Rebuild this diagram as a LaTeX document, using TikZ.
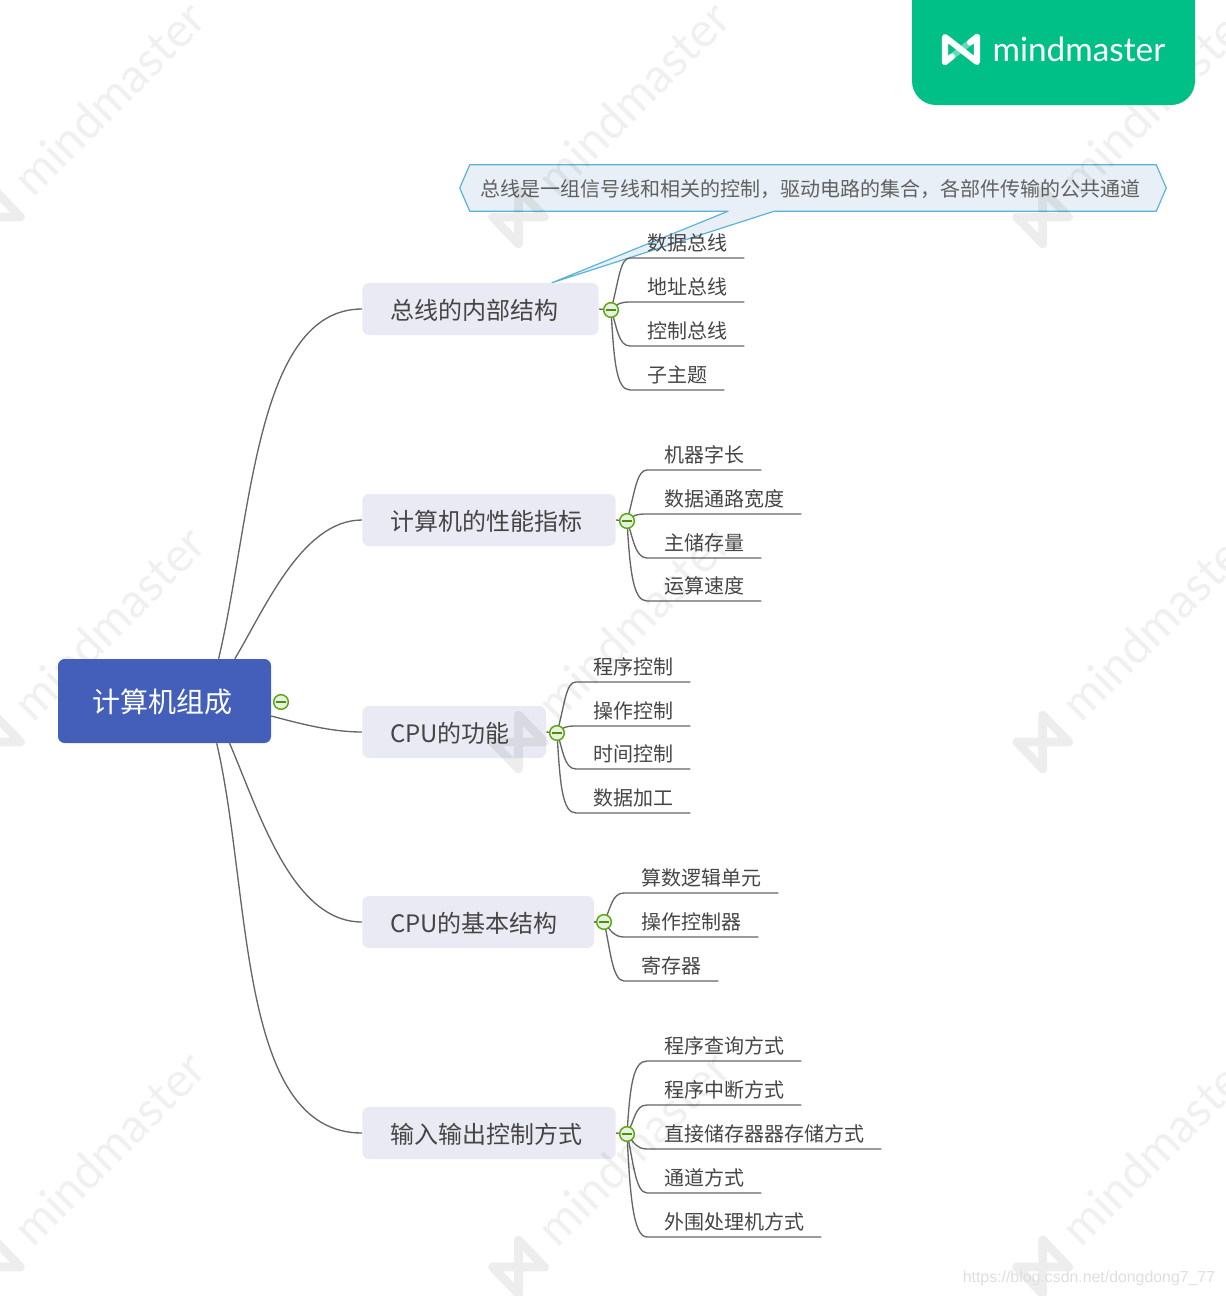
\documentclass[tikz,border=0pt]{standalone}
\usepackage{fontspec}
\usepackage{xcolor}
\setmainfont{Noto Sans CJK SC}
\newfontfamily\logofont{Lato}
\newfontfamily\urlfont{Liberation Sans}
\usetikzlibrary{calc,backgrounds}
\definecolor{rootblue}{HTML}{435FBA}
\definecolor{topicgray}{HTML}{E9EAF3}
\definecolor{linegray}{HTML}{666666}
\definecolor{textgray}{HTML}{454545}
\definecolor{notefill}{HTML}{E8EFF6}
\definecolor{noteblue}{HTML}{5BB4D6}
\definecolor{togglegreen}{HTML}{5AA80F}
\definecolor{togglefill}{HTML}{E8F1DF}
\definecolor{brandgreen}{HTML}{00C087}
\newcommand{\togglebar}{\rule{7pt}{1pt}}

\begin{document}
\begin{tikzpicture}[
  x=0.75pt, y=-0.75pt,
  rootnode/.style={rectangle, rounded corners=5pt, minimum width=159.75pt,
                   minimum height=63pt, align=center, fill=rootblue, text=white,
                   text height=20pt, text depth=2.5pt,
                   font=\fontsize{21pt}{25pt}\selectfont},
  topic/.style={rectangle, rounded corners=5pt, anchor=west, minimum height=39pt,
                inner xsep=20.9pt, align=left, fill=topicgray, text=textgray,
                text height=17.9pt, text depth=2pt,
                font=\fontsize{18pt}{22pt}\selectfont},
  leaf/.style={rectangle, anchor=south west, inner xsep=12.7pt, inner ysep=0pt,
               minimum height=22.5pt, text=textgray,
               font=\fontsize{15pt}{18pt}\selectfont},
  togglenode/.style={circle, minimum size=11pt, inner sep=0pt, draw=togglegreen,
                     line width=1.1pt, fill=togglefill, text=togglegreen!85!black,
                     font=\fontsize{5pt}{5pt}\selectfont},
  branch/.style={draw=linegray, line width=1pt},
  wmtext/.style={rotate=45, text=black, opacity=0.06,
                 font=\logofont\fontsize{36pt}{42pt}\selectfont},
  wmark/.pic={
    \draw[line width=6.5pt, line join=round, black, opacity=0.07]
      (-26,0) -- (0,27) -- (0,-27) -- (26,0) -- cycle;
    \node[wmtext] (-label) at (114.5,-119) {mindmaster};
  },
]
  \useasboundingbox (0,0) rectangle (1225,1296);
  \clip (0,0) rectangle (1225,1296);

  % Column x-coordinates of the leaves
  \def\xa{630}
  \def\xb{647}
  \def\xc{576}
  \def\xd{624}

  % Topics
  \node[topic, text width=135.5pt] (bus) at (362,309) {总线的内部结构};
  \node[topic, text width=148.3pt] (perf) at (362,520) {计算机的性能指标};
  \node[topic, text width=96pt] (func) at (362,732) {CPU的功能};
  \node[topic, text width=132pt] (struct) at (362,922) {CPU的基本结构};
  \node[topic, text width=148.3pt] (io) at (362,1133) {输入输出控制方式};

  % Leaves of the bus topic
  \node[leaf] (bus1) at (\xa,258) {数据总线};
  \node[leaf] (bus2) at (\xa,302) {地址总线};
  \node[leaf] (bus3) at (\xa,346) {控制总线};
  \node[leaf] (bus4) at (\xa,390) {子主题};

  % Leaves of the performance topic
  \node[leaf] (perf1) at (\xb,470) {机器字长};
  \node[leaf] (perf2) at (\xb,514) {数据通路宽度};
  \node[leaf] (perf3) at (\xb,558) {主储存量};
  \node[leaf] (perf4) at (\xb,601) {运算速度};

  % Leaves of the function topic
  \node[leaf] (func1) at (\xc,682) {程序控制};
  \node[leaf] (func2) at (\xc,726) {操作控制};
  \node[leaf] (func3) at (\xc,769) {时间控制};
  \node[leaf] (func4) at (\xc,813) {数据加工};

  % Leaves of the structure topic
  \node[leaf] (struct1) at (\xd,893) {算数逻辑单元};
  \node[leaf] (struct2) at (\xd,937) {操作控制器};
  \node[leaf] (struct3) at (\xd,981) {寄存器};

  % Leaves of the io topic
  \node[leaf] (io1) at (\xb,1061) {程序查询方式};
  \node[leaf] (io2) at (\xb,1105) {程序中断方式};
  \node[leaf] (io3) at (\xb,1149) {直接储存器器存储方式};
  \node[leaf] (io4) at (\xb,1193) {通道方式};
  \node[leaf] (io5) at (\xb,1237) {外围处理机方式};

  % Callout text
  \node[text=textgray!85!white, inner xsep=0pt, minimum height=34.5pt,
        text height=14.7pt, text depth=1.8pt,
        font=\fontsize{15pt}{18pt}\selectfont] (note) at (810,188)
        {总线是一组信号线和相关的控制，驱动电路的集合，各部件传输的公共通道};

  % Watermark, over the topics
  \pic (wa) at (-5.5,217) {wmark};
  \pic (wb) at (518.5,217) {wmark};
  \pic (wc) at (1042.7,217) {wmark};
  \pic (wd) at (-5.5,742) {wmark};
  \pic (we) at (518.5,742) {wmark};
  \pic (wf) at (1042.7,742) {wmark};
  \pic (wg) at (-5.5,1267) {wmark};
  \pic (wh) at (518.5,1267) {wmark};
  \pic (wi) at (1042.7,1267) {wmark};

  % Root
  \node[rootnode] (root) at (164.5,701) {计算机组成\hspace{3pt}};

  % Toggles
  \node[togglenode] (roottog) at (281,702) {\togglebar};
  \node[togglenode] (bustog) at (611,310) {\togglebar};
  \node[togglenode] (perftog) at (627,521) {\togglebar};
  \node[togglenode] (functog) at (557,733) {\togglebar};
  \node[togglenode] (structtog) at (604,922) {\togglebar};
  \node[togglenode] (iotog) at (627,1134) {\togglebar};

  % Brand tab
  \fill[brandgreen, rounded corners=18pt] (912,-40) rectangle (1195,105);
  \draw[white, line width=4.6pt, line join=round, line cap=round]
    (945,62) -- (945,37) -- (977,62) -- (977,37);
  \draw[white, opacity=0.4, line width=4.6pt] (977,37) -- (945,62);
  \draw[white, line width=4.6pt, line cap=round] (945,62) -- (952,56.5);
  \draw[white, line width=4.6pt, line cap=round] (977,37) -- (970,42.5);
  \node[text=white, inner sep=0pt, font=\logofont\fontsize{25pt}{30pt}\selectfont]
        (brand) at (1079,49) {mindmaster};

  % Source line
  \node[text=black!13, inner sep=0pt, font=\urlfont\fontsize{11.9pt}{14pt}\selectfont]
        (source) at (1089,1278) {https://blog.csdn.net/dongdong7\_77};

  \begin{scope}[on background layer]
    % Callout outline
    \draw[fill=notefill, draw=noteblue, line width=0.9pt, line join=round]
      ($(note.west)+(-20,0)$) -- ($(note.north west)+(-10,0)$)
      -- ($(note.north east)+(16,0)$) -- ($(note.east)+(26,0)$)
      -- ($(note.south east)+(16,0)$) -- ($(note.south)+(-36,0)$)
      -- ($(bus.north)+(71.5,0)$) -- ($(note.south)+(-82,0)$)
      -- ($(note.south west)+(-10,0)$) -- cycle;

    % Root to topics
    \draw[branch] (root.38.7) .. controls +(33,-139) and +(-107,0) .. (bus.west);
    \draw[branch] (root.31.5) .. controls +(30,-50) and +(-60,0) .. (perf.west);
    \draw[branch] (root.-8.5) .. controls +(30,8) and +(-30,0) .. (func.west);
    \draw[branch] (root.-33.5) .. controls +(30,70) and +(-70,0) .. (struct.west);
    \draw[branch] (root.-39.7) .. controls +(35,150) and +(-125,0) .. (io.west);

    % Bus leaves
    \draw[branch] (bus.east) -- (bustog.center);
    \draw[branch] (bustog.center) .. controls +(8,-30) and +(-10,0) .. (bus1.south west) -- (bus1.south east);
    \draw[branch] (bustog.center) .. controls +(6,-6) and +(-10,0) .. (bus2.south west) -- (bus2.south east);
    \draw[branch] (bustog.center) .. controls +(6,16) and +(-12,0) .. (bus3.south west) -- (bus3.south east);
    \draw[branch] (bustog.center) .. controls +(3,50) and +(-14,0) .. (bus4.south west) -- (bus4.south east);

    % Performance leaves
    \draw[branch] (perf.east) -- (perftog.center);
    \draw[branch] (perftog.center) .. controls +(8,-30) and +(-10,0) .. (perf1.south west) -- (perf1.south east);
    \draw[branch] (perftog.center) .. controls +(6,-6) and +(-10,0) .. (perf2.south west) -- (perf2.south east);
    \draw[branch] (perftog.center) .. controls +(6,16) and +(-12,0) .. (perf3.south west) -- (perf3.south east);
    \draw[branch] (perftog.center) .. controls +(3,50) and +(-14,0) .. (perf4.south west) -- (perf4.south east);

    % Function leaves
    \draw[branch] (func.east) -- (functog.center);
    \draw[branch] (functog.center) .. controls +(8,-30) and +(-10,0) .. (func1.south west) -- (func1.south east);
    \draw[branch] (functog.center) .. controls +(6,-6) and +(-10,0) .. (func2.south west) -- (func2.south east);
    \draw[branch] (functog.center) .. controls +(6,16) and +(-12,0) .. (func3.south west) -- (func3.south east);
    \draw[branch] (functog.center) .. controls +(3,50) and +(-14,0) .. (func4.south west) -- (func4.south east);

    % Structure leaves
    \draw[branch] (struct.east) -- (structtog.center);
    \draw[branch] (structtog.center) .. controls +(7,-14) and +(-12,0) .. (struct1.south west) -- (struct1.south east);
    \draw[branch] (structtog.center) .. controls +(6,8) and +(-10,0) .. (struct2.south west) -- (struct2.south east);
    \draw[branch] (structtog.center) .. controls +(6,24) and +(-12,0) .. (struct3.south west) -- (struct3.south east);

    % Io leaves
    \draw[branch] (io.east) -- (iotog.center);
    \draw[branch] (iotog.center) .. controls +(3,-48) and +(-14,0) .. (io1.south west) -- (io1.south east);
    \draw[branch] (iotog.center) .. controls +(8,-14) and +(-12,0) .. (io2.south west) -- (io2.south east);
    \draw[branch] (iotog.center) .. controls +(6,8) and +(-10,0) .. (io3.south west) -- (io3.south east);
    \draw[branch] (iotog.center) .. controls +(6,24) and +(-12,0) .. (io4.south west) -- (io4.south east);
    \draw[branch] (iotog.center) .. controls +(3,60) and +(-14,0) .. (io5.south west) -- (io5.south east);
  \end{scope}
\end{tikzpicture}
\end{document}
